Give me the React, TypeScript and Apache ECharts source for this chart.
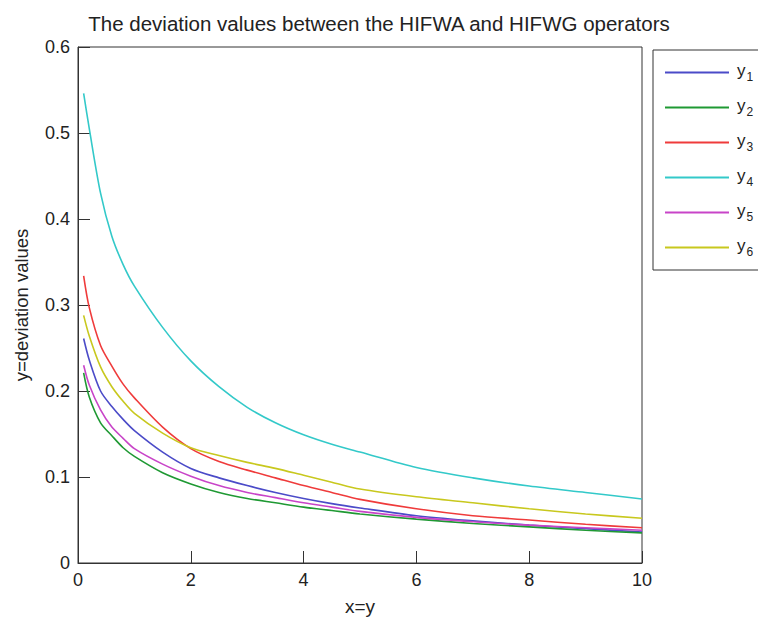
import React, { useEffect, useRef } from "react";
import * as echarts from "echarts";

const xValues = [0.1, 0.2, 0.4, 0.6, 0.8, 1.0, 1.5, 2, 2.5, 3, 3.5, 4, 4.5, 5, 6, 7, 8, 9, 10];
const y1 = [0.261, 0.236, 0.2, 0.182, 0.167, 0.154, 0.129, 0.11, 0.099, 0.09, 0.082, 0.075, 0.069, 0.064, 0.055, 0.049, 0.044, 0.04, 0.036];
const y2 = [0.221, 0.193, 0.163, 0.148, 0.134, 0.124, 0.105, 0.092, 0.082, 0.075, 0.07, 0.065, 0.061, 0.057, 0.051, 0.046, 0.042, 0.038, 0.035];
const y3 = [0.334, 0.297, 0.253, 0.229, 0.208, 0.192, 0.158, 0.133, 0.118, 0.108, 0.099, 0.09, 0.082, 0.074, 0.063, 0.055, 0.05, 0.045, 0.041];
const y4 = [0.546, 0.505, 0.43, 0.38, 0.347, 0.322, 0.274, 0.235, 0.205, 0.181, 0.163, 0.149, 0.138, 0.129, 0.111, 0.099, 0.0895, 0.082, 0.0745];
const y5 = [0.23, 0.207, 0.178, 0.158, 0.145, 0.133, 0.115, 0.101, 0.09, 0.082, 0.076, 0.07, 0.065, 0.06, 0.053, 0.048, 0.044, 0.041, 0.038];
const y6 = [0.288, 0.264, 0.228, 0.205, 0.188, 0.174, 0.151, 0.134, 0.125, 0.117, 0.11, 0.102, 0.094, 0.086, 0.077, 0.07, 0.063, 0.057, 0.052];

const seriesNames = ["y1", "y2", "y3", "y4", "y5", "y6"];
const seriesValues = [y1, y2, y3, y4, y5, y6];
const seriesColors = ["#4b4bc8", "#1f9933", "#ef3b3b", "#33c9c9", "#c844c8", "#c8c81e"];

const titleText = "The deviation values between the HIFWA and HIFWG operators";
const xAxisName = "x=y";
const yAxisName = "y=deviation values";

const FONT = "'Liberation Sans', Arial, sans-serif";

export default function App() {
  const ref = useRef<HTMLDivElement>(null);
  useEffect(() => {
    if (!ref.current) return;
    const chart = echarts.init(ref.current, undefined, { renderer: "svg" });
    const series = seriesNames.map((name, i) => ({
      name,
      type: "line",
      xAxisIndex: 0,
      yAxisIndex: 0,
      data: xValues.map((x, j) => [x, seriesValues[i][j]]),
      smooth: 0.3,
      symbol: "none",
      showSymbol: false,
      lineStyle: { color: seriesColors[i], width: 1.6 },
      itemStyle: { color: seriesColors[i] },
    }));
    const axisLabelStyle = { color: "#222", fontSize: 18, fontFamily: FONT };
    // tick-only axes shifted 6px into the plot, ticks pointing outwards to the frame
    const tick = { show: true, inside: false, length: 6, lineStyle: { color: "#333" } };
    const tickAxisX = (position: string) => ({
      type: "value",
      min: 0,
      max: 10,
      interval: 2,
      position,
      offset: -6,
      axisLine: { show: false },
      axisTick: tick,
      axisLabel: { show: false },
      splitLine: { show: false },
    });
    const tickAxisY = (position: string) => ({
      type: "value",
      min: 0,
      max: 0.6,
      interval: 0.1,
      position,
      offset: -6,
      axisLine: { show: false },
      axisTick: tick,
      axisLabel: { show: false },
      splitLine: { show: false },
    });
    chart.setOption({
      animation: false,
      backgroundColor: "#fff",
      title: {
        text: titleText,
        left: 374,
        textAlign: "center",
        top: 8,
        textStyle: { fontSize: 20.5, fontWeight: "normal", color: "#222", fontFamily: FONT },
      },
      legend: {
        orient: "vertical",
        left: 653,
        top: 50,
        width: 140,
        padding: [12, 40, 12, 12],
        icon: "rect",
        itemWidth: 64,
        itemHeight: 2,
        itemGap: 14,
        borderColor: "#333",
        borderWidth: 1,
        backgroundColor: "#fff",
        data: seriesNames,
        formatter: (n: string) => `{a|y}{b|${n.slice(1)}}`,
        textStyle: {
          fontFamily: FONT,
          color: "#222",
          padding: [0, 0, 0, 3],
          rich: {
            a: { fontSize: 17, fontFamily: FONT, color: "#222", lineHeight: 21, verticalAlign: "top" },
            b: { fontSize: 12, fontFamily: FONT, color: "#222", lineHeight: 21, verticalAlign: "bottom", padding: [7, 0, 0, 1] },
          },
        },
      },
      grid: {
        left: 78,
        right: 116,
        top: 47,
        bottom: 62,
        show: true,
        borderColor: "#333",
        borderWidth: 1,
        backgroundColor: "#fff",
      },
      xAxis: [
        {
          type: "value",
          min: 0,
          max: 10,
          interval: 2,
          position: "bottom",
          name: xAxisName,
          nameLocation: "middle",
          nameGap: 34,
          nameTextStyle: { fontSize: 19, color: "#222", fontFamily: FONT },
          axisLine: { show: true, lineStyle: { color: "#333" } },
          axisTick: { show: false },
          axisLabel: { ...axisLabelStyle, margin: 8 },
          splitLine: { show: false },
        },
        tickAxisX("bottom"),
        tickAxisX("top"),
      ],
      yAxis: [
        {
          type: "value",
          min: 0,
          max: 0.6,
          interval: 0.1,
          position: "left",
          name: yAxisName,
          nameLocation: "middle",
          nameGap: 47,
          nameTextStyle: { fontSize: 18.5, color: "#222", fontFamily: FONT },
          axisLine: { show: true, lineStyle: { color: "#333" } },
          axisTick: { show: false },
          axisLabel: { ...axisLabelStyle, margin: 8, formatter: (v: number) => (v === 0 ? "0" : v.toFixed(1)) },
          splitLine: { show: false },
        },
        tickAxisY("left"),
        tickAxisY("right"),
      ],
      series,
    });
    return () => chart.dispose();
  }, []);
  return (
    <div
      ref={ref}
      style={{ position: "fixed", left: 0, top: 0, width: 758, height: 625, background: "#fff" }}
    />
  );
}
